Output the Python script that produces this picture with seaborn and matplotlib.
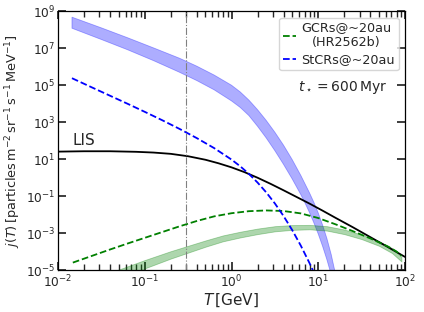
import numpy as np
import matplotlib
matplotlib.use("Agg")
import matplotlib.pyplot as plt
from matplotlib.lines import Line2D
from matplotlib.ticker import LogFormatterSciNotation, NullLocator
import seaborn as sns

# ─────────────────────────────────────────────
# Values
# (both axes are logarithmic, so the readings are kept as log10 values)
# ─────────────────────────────────────────────

# local interstellar spectrum (black solid)
lis_logT = [-2.0, -1.7, -1.4, -1.1, -0.9, -0.7, -0.5, -0.3, -0.15, 0.0, 0.15,
            0.3, 0.45, 0.6, 0.75, 0.9, 1.05, 1.2, 1.4, 1.6, 1.8, 2.0]
lis_logj = [1.41, 1.43, 1.43, 1.40, 1.36, 1.29, 1.16, 0.97, 0.78, 0.56, 0.30,
            0.00, -0.33, -0.68, -1.04, -1.40, -1.78, -2.17, -2.68, -3.21,
            -3.74, -4.28]

# GCRs at ~20 au (green dashed)
gcr_logT = [-1.83, -1.6, -1.4, -1.2, -1.0, -0.8, -0.6, -0.4, -0.2, 0.0, 0.2,
            0.4, 0.6, 0.8, 1.0, 1.2, 1.4, 1.6, 1.8, 1.9, 1.96]
gcr_logj = [-4.59, -4.21, -3.88, -3.56, -3.25, -2.94, -2.63, -2.34, -2.09,
            -1.92, -1.81, -1.77, -1.80, -1.93, -2.18, -2.52, -2.89, -3.28,
            -3.71, -3.98, -4.22]

# green band (GCR range)
gband_logT = [-1.35, -1.0, -0.7, -0.5, -0.3, -0.1, 0.1, 0.3, 0.5, 0.7, 0.9,
              1.1, 1.3, 1.5, 1.7, 1.85, 1.96]
gband_hi = [-5.05, -4.45, -3.97, -3.68, -3.39, -3.12, -2.92, -2.75, -2.62,
            -2.56, -2.55, -2.62, -2.80, -3.07, -3.43, -3.80, -4.27]
gband_lo = [-5.55, -4.90, -4.37, -4.05, -3.73, -3.44, -3.23, -3.05, -2.90,
            -2.82, -2.79, -2.86, -3.05, -3.32, -3.68, -4.07, -4.53]

# StCRs at ~20 au (blue dashed)
st_logT = [-1.84, -1.6, -1.4, -1.2, -1.0, -0.8, -0.6, -0.4, -0.2, 0.0, 0.1,
           0.2, 0.3, 0.4, 0.5, 0.6, 0.7, 0.8, 0.9, 0.95]
st_logj = [5.38, 4.86, 4.43, 4.00, 3.56, 3.11, 2.64, 2.14, 1.60, 0.98, 0.62,
           0.21, -0.26, -0.79, -1.39, -2.07, -2.83, -3.68, -4.62, -5.13]

# blue band (StCR range): upper edge
bhi_logT = [-1.84, -1.5, -1.2, -0.9, -0.6, -0.4, -0.2, 0.0, 0.1, 0.2, 0.3,
            0.4, 0.5, 0.6, 0.7, 0.8, 0.9, 0.95, 1.0, 1.05, 1.1, 1.15, 1.19,
            1.23]
bhi_logj = [8.68, 8.10, 7.57, 7.02, 6.46, 6.03, 5.55, 5.00, 4.64, 4.20, 3.68,
            3.10, 2.46, 1.76, 0.98, 0.12, -0.82, -1.33, -1.90, -2.55, -3.28,
            -4.15, -5.00, -5.80]
# blue band: lower edge
blo_logT = [-1.84, -1.5, -1.2, -0.9, -0.6, -0.4, -0.2, 0.0, 0.1, 0.2, 0.3,
            0.4, 0.5, 0.6, 0.7, 0.8, 0.85, 0.9, 0.95, 1.0, 1.05, 1.1, 1.15,
            1.18]
blo_logj = [8.08, 7.47, 6.92, 6.33, 5.70, 5.25, 4.75, 4.15, 3.80, 3.36, 2.78,
            2.15, 1.46, 0.72, -0.07, -0.92, -1.39, -1.89, -2.44, -3.04, -3.70,
            -4.43, -5.25, -5.80]

t_marker = 0.3
y_ticks = [1e-5, 1e-3, 1e-1, 1e1, 1e3, 1e5, 1e7, 1e9]


def lin(v):
    """log10 readings -> linear values for the log axes"""
    return np.power(10.0, v)


# ─────────────────────────────────────────────
# Figure
# ─────────────────────────────────────────────

sns.set_theme(style="ticks")
plt.rcParams.update({
    "font.family": ["DejaVu Sans"],
    "xtick.direction": "in",
    "ytick.direction": "in",
    "xtick.top": True,
    "ytick.right": True,
    "axes.edgecolor": "black",
    "axes.linewidth": 0.9,
})

fig, ax = plt.subplots(figsize=(4.24, 3.12), dpi=100)
fig.subplots_adjust(left=0.137, right=0.955, bottom=0.134, top=0.964)
ax.set_xscale("log")
ax.set_yscale("log")

# bands
ax.fill(np.concatenate([lin(bhi_logT), lin(blo_logT)[::-1]]),
        np.concatenate([lin(bhi_logj), lin(blo_logj)[::-1]]),
        facecolor="blue", alpha=0.32, edgecolor="blue", lw=0.6)
ax.fill_between(lin(gband_logT), lin(gband_lo), lin(gband_hi),
                facecolor="green", alpha=0.32, edgecolor="green", lw=0.6)

sns.lineplot(x=lin(lis_logT), y=lin(lis_logj), ax=ax, color="black", lw=1.3)
sns.lineplot(x=lin(gcr_logT), y=lin(gcr_logj), ax=ax, color="green", lw=1.3,
             linestyle="--")
sns.lineplot(x=lin(st_logT), y=lin(st_logj), ax=ax, color="blue", lw=1.3,
             linestyle="--")

ax.axvline(t_marker, color="gray", lw=0.8, linestyle="-.")

ax.set_xlim(1e-2, 1e2)
ax.set_ylim(1e-5, 1e9)
ax.set_yticks(y_ticks)
ax.yaxis.set_major_formatter(LogFormatterSciNotation())
ax.yaxis.set_minor_locator(NullLocator())
ax.tick_params(labelsize=8.8)
ax.tick_params(axis="x", pad=2.5)
ax.tick_params(axis="y", pad=2)

ax.set_xlabel(r"$T\,[\mathrm{GeV}]$", fontsize=11, labelpad=1)
ax.set_ylabel(r"$j(T)\,[\mathrm{particles\,m^{-2}\,sr^{-1}\,s^{-1}\,MeV^{-1}}]$",
              fontsize=9.3, labelpad=2)

ax.text(0.0147, 98, "LIS", fontsize=11, va="center", ha="left")

handles = [Line2D([], [], color="green", lw=1.3, linestyle="--"),
           Line2D([], [], color="blue", lw=1.3, linestyle="--")]
labels = ["GCRs@~20au\n(HR2562b)", "StCRs@~20au"]
leg = ax.legend(handles, labels, loc="upper right", fontsize=9.2,
                handlelength=1.0, handletextpad=0.4, borderpad=0.3,
                labelspacing=0.3, borderaxespad=0.5, frameon=True)
for t in leg.get_texts():
    t.set_multialignment("center")

ax.text(0.82, 0.705, r"$t_\star = 600\,\mathrm{Myr}$", transform=ax.transAxes,
        fontsize=10, ha="center", va="center")

fig.savefig("out.png", dpi=100)
